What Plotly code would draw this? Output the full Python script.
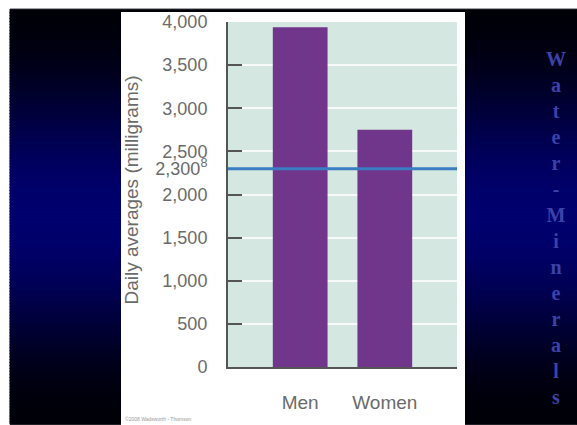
import plotly.graph_objects as go
import math

# ---- data ----
categories = ["Men", "Women"]
daily_avg_mg = [3940, 2750]
recommended_limit_mg = 2300
y_tick_values = [0, 500, 1000, 1500, 2000, 2500, 3000, 3500, 4000, 2300]
y_tick_labels = ["0", "500", "1,000", "1,500", "2,000", "2,500", "3,000",
                 "3,500", "4,000", "2,300<sup>8</sup>"]
side_title = "Water-Minerals"

W, H = 577, 425
ML, MR, MT, MB = 228, 120, 18, 58
PW, PH = W - ML - MR, H - MT - MB


def px_x(px):
    return (px - ML) / PW


def px_y(py):
    return (H - MB - py) / PH


shapes = []
# dark vertical gradient background
y0_bg, y1_bg, step = 5, 425, 3
py = y0_bg
while py < y1_bg:
    t = (py + step / 2 - y0_bg) / (y1_bg - y0_bg)
    b = int(round(8 + 102 * math.sin(math.pi * t) ** 2))
    col = f"rgb(0,0,{b})"
    shapes.append(dict(type="rect", xref="paper", yref="paper", layer="below",
                       x0=px_x(10), x1=px_x(577),
                       y0=px_y(min(py + step + 1, y1_bg)), y1=px_y(py),
                       fillcolor=col, line=dict(width=1, color=col)))
    py += step
# white panel
shapes.append(dict(type="rect", xref="paper", yref="paper", layer="below",
                   x0=px_x(121), x1=px_x(465), y0=px_y(426), y1=px_y(8),
                   fillcolor="white", line=dict(width=0)))
# plot area background
shapes.append(dict(type="rect", xref="paper", yref="paper", layer="below",
                   x0=0, x1=1, y0=0, y1=1, fillcolor="#D4E7E1", line=dict(width=0)))
# recommended limit line
shapes.append(dict(type="line", xref="paper", yref="y", layer="above",
                   x0=0, x1=1, y0=recommended_limit_mg, y1=recommended_limit_mg,
                   line=dict(color="#3A7DC2", width=3)))

fig = go.Figure()
fig.add_trace(go.Bar(x=categories, y=daily_avg_mg, width=0.647,
                     marker=dict(color="#70368C", line=dict(width=0)),
                     hoverinfo="skip"))

grey = "#6b6b6b"
fnt = "Liberation Sans, Arial, sans-serif"

fig.update_layout(
    width=W, height=H,
    margin=dict(l=ML, r=MR, t=MT, b=MB, pad=0),
    paper_bgcolor="white",
    plot_bgcolor="rgba(0,0,0,0)",
    showlegend=False,
    shapes=shapes,
    xaxis=dict(range=[-0.853, 1.853], showline=True, linecolor="#555",
               linewidth=2, ticks="", showgrid=False, zeroline=False,
               tickfont=dict(family=fnt, size=19, color=grey),
               ticklabelstandoff=17, fixedrange=True),
    yaxis=dict(range=[0, 4000], tickvals=y_tick_values, ticktext=y_tick_labels,
               showline=True, linecolor="#555", linewidth=2,
               ticks="inside", ticklen=14, tickwidth=2, tickcolor="#555",
               showgrid=True, gridcolor="rgba(255,255,255,0.8)", gridwidth=2,
               zeroline=False, tickfont=dict(family=fnt, size=18, color=grey),
               ticklabelstandoff=15, fixedrange=True),
    annotations=[
        dict(text="Daily averages (milligrams)", textangle=-90, showarrow=False,
             xref="paper", yref="paper", x=px_x(131.5), y=px_y(188),
             xanchor="center", yanchor="middle",
             font=dict(family=fnt, size=19, color=grey)),
        dict(text="©2008 Wadsworth - Thomson", showarrow=False,
             xref="paper", yref="paper", x=px_x(123), y=px_y(420),
             xanchor="left", yanchor="middle",
             font=dict(family=fnt, size=5, color="#999")),
        dict(text="<br>".join(list(side_title)), showarrow=False,
             xref="paper", yref="paper", x=px_x(556), y=px_y(226),
             xanchor="center", yanchor="middle", align="center",
             font=dict(family="Liberation Serif, serif", size=20, color="#3C42A8",
                       weight="bold")),
    ],
)

fig.write_html("out.html")
